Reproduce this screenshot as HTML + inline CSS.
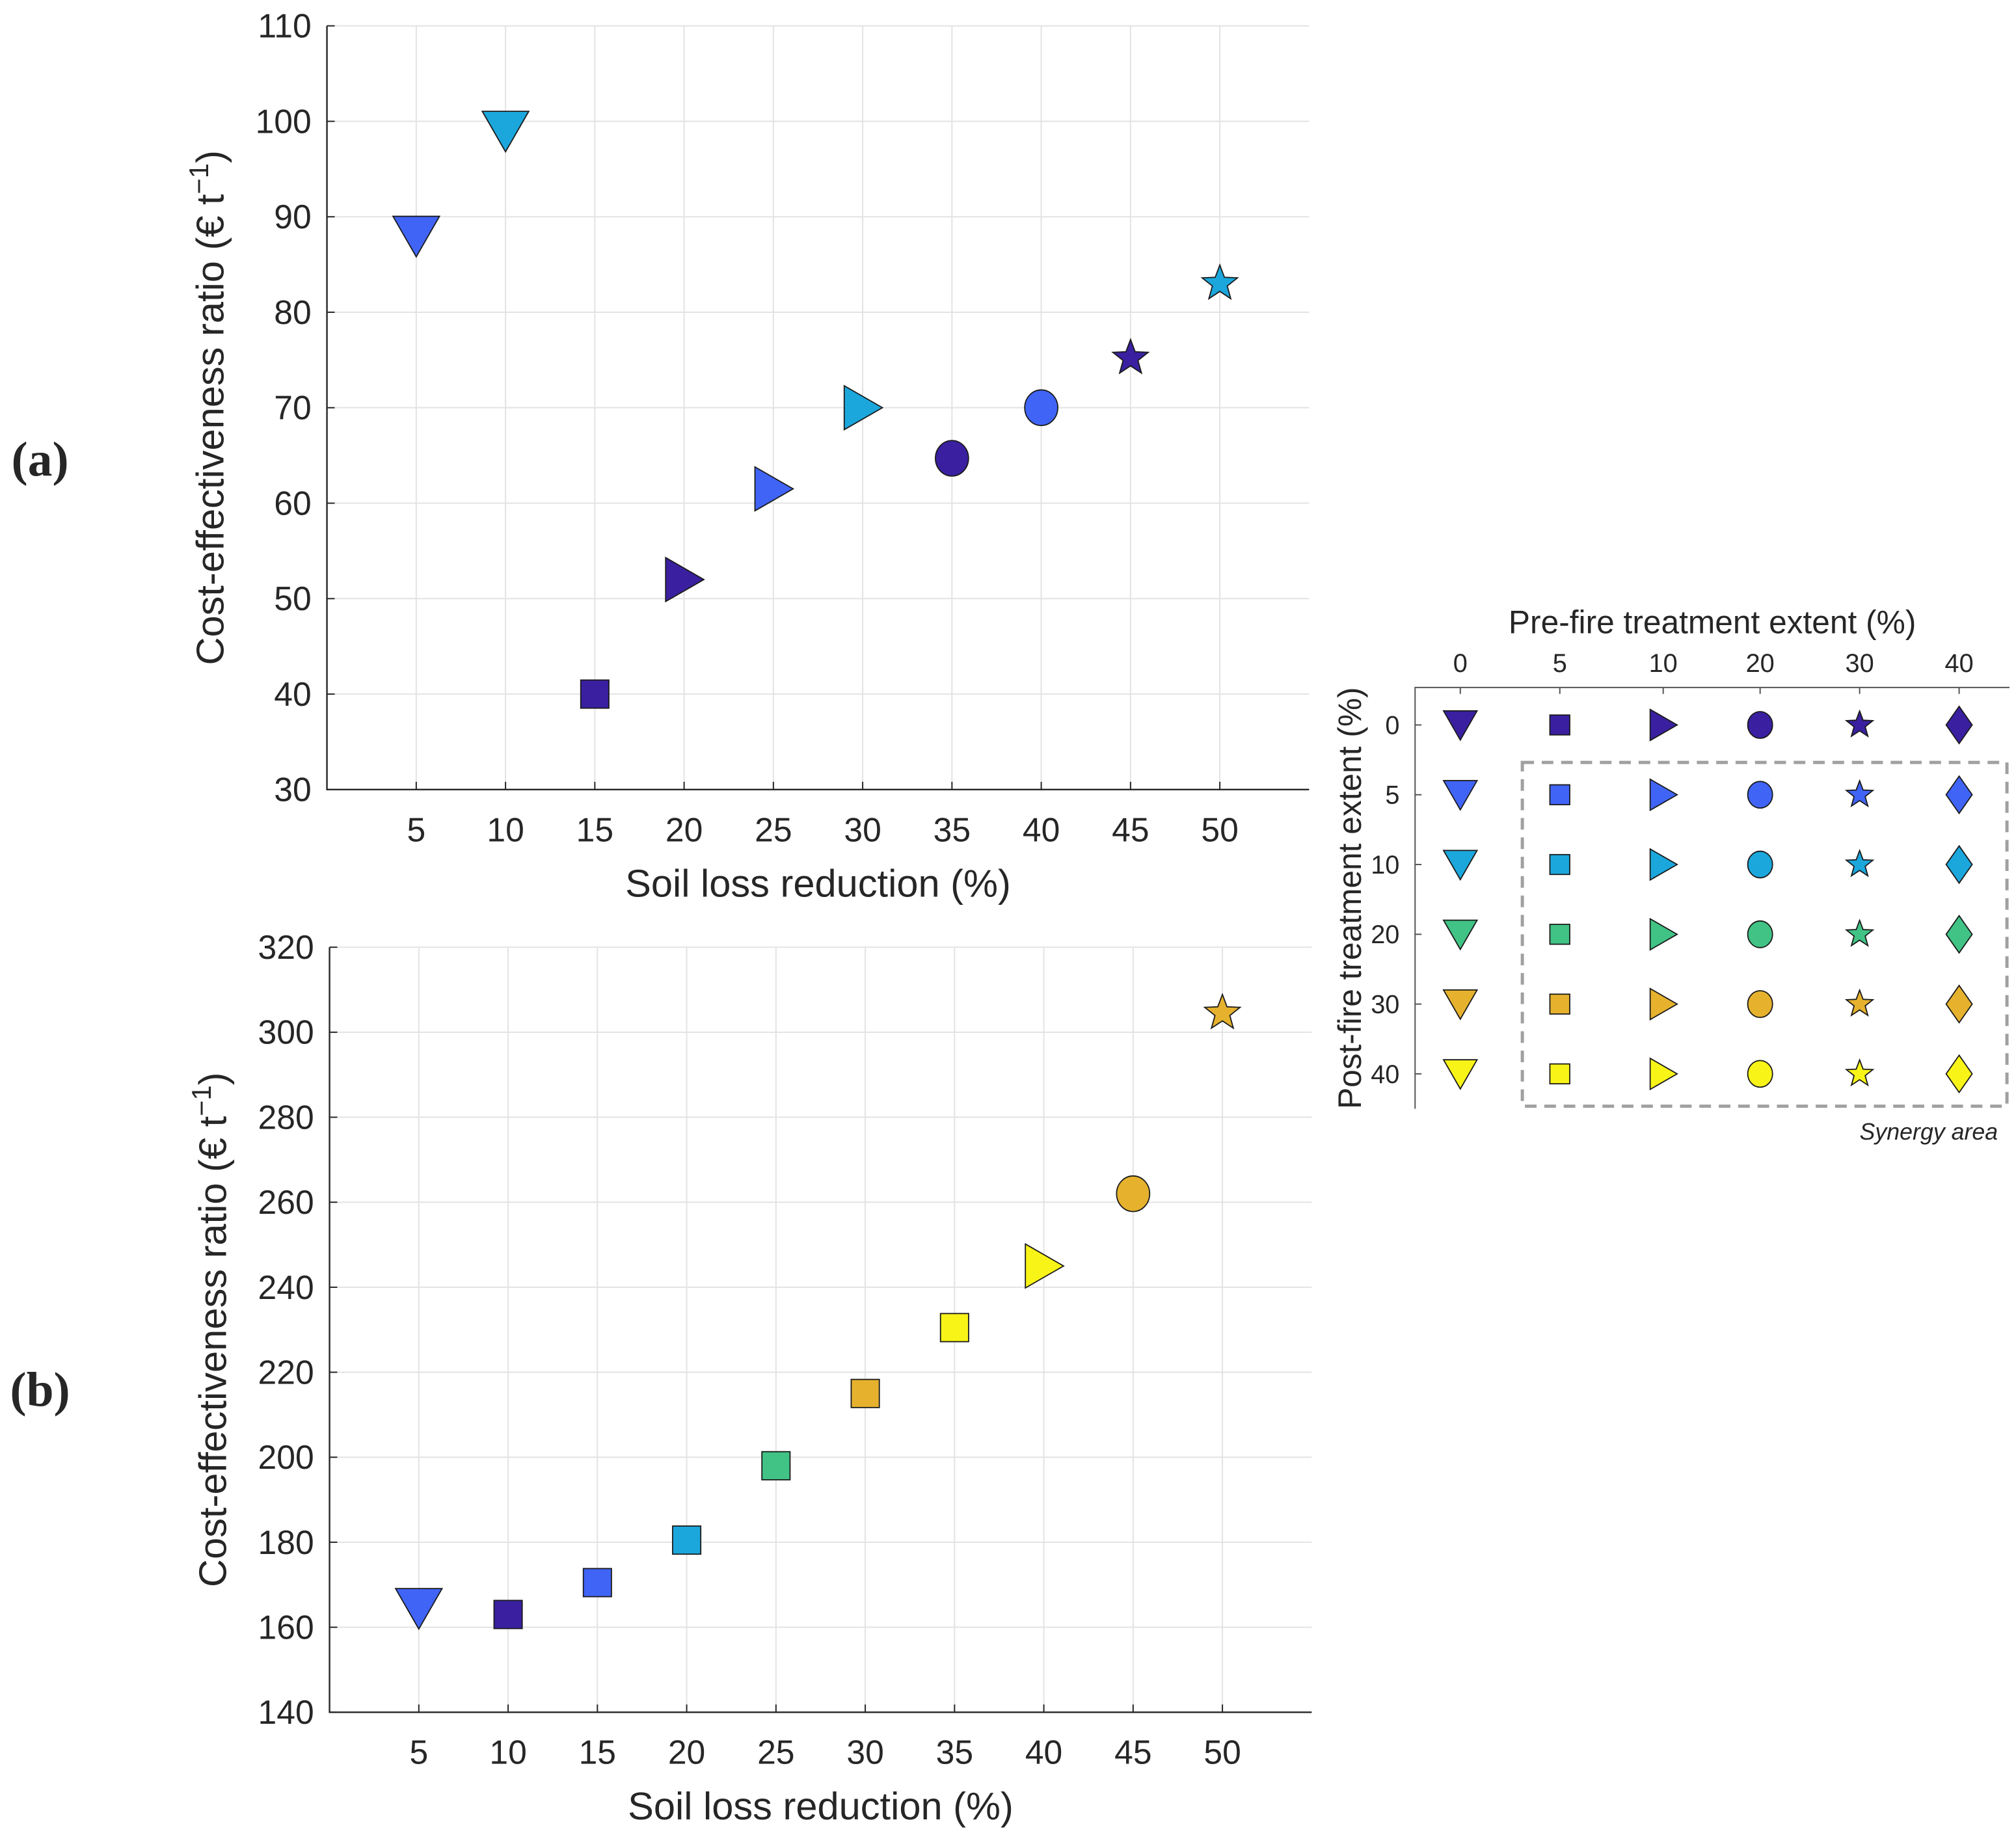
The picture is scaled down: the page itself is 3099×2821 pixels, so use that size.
<!DOCTYPE html>
<html><head><meta charset="utf-8"><style>
html,body{margin:0;padding:0;background:#fff;}
svg{display:block;}
text{font-family:"Liberation Sans",sans-serif;fill:#262626;}
</style></head><body>
<svg id="fig" width="3099" height="2821" viewBox="0 0 1560 1420" preserveAspectRatio="none" xmlns="http://www.w3.org/2000/svg">
<text x="31" y="368" style="font-family:'Liberation Serif',serif;font-weight:bold" font-size="38" text-anchor="middle" fill="#000">(a)</text>
<text x="31" y="1088" style="font-family:'Liberation Serif',serif;font-weight:bold" font-size="38" text-anchor="middle" fill="#000">(b)</text>
<g id="panelA"></g>
<g id="panelB"></g>
<g id="legend"></g>
</svg>
<script>
// shared x categories
const xCats = [5,10,15,20,25,30,35,40,45,50];
// panel a
const aValues = [88,99,40,52,61.5,70,64.7,70,75.2,83];
const aShapes = ['tri-down','tri-down','square','tri-right','tri-right','tri-right','circle','circle','star','star'];
const aPost = [5,10,0,0,5,10,0,5,0,10];
const aYTicks = [30,40,50,60,70,80,90,100,110];
// panel b
const bValues = [164.5,163,170.5,180.5,198,215,230.5,245,262,304.5];
const bShapes = ['tri-down','square','square','square','square','square','square','tri-right','circle','star'];
const bPost = [5,0,5,10,20,30,40,40,30,30];
const bYTicks = [140,160,180,200,220,240,260,280,300,320];
// legend
const preLevels = [0,5,10,20,30,40];
const postLevels = [0,5,10,20,30,40];
const legendShapes = ['tri-down','square','tri-right','circle','star','diamond'];

const COLORS = {0:'#3a20a0',5:'#4064f6',10:'#1ba7dc',20:'#41c385',30:'#e6b22e',40:'#f8f418'};
const NS='http://www.w3.org/2000/svg';
function mk(tag, attrs, parent){const e=document.createElementNS(NS,tag);for(const k in attrs)e.setAttribute(k,attrs[k]);parent.appendChild(e);return e;}

function marker(parent, shape, cx, cy, s, fill){
  let e;
  const st={fill:fill,stroke:'#1a1a1a','stroke-width':0.9};
  if(shape==='tri-down'){
    e=mk('polygon',Object.assign({points:`${cx-s*0.5},${cy-s*0.42} ${cx+s*0.5},${cy-s*0.42} ${cx},${cy+s*0.45}`},st),parent);
  } else if(shape==='tri-right'){
    e=mk('polygon',Object.assign({points:`${cx-s*0.42},${cy-s*0.5} ${cx+s*0.45},${cy} ${cx-s*0.42},${cy+s*0.5}`},st),parent);
  } else if(shape==='square'){
    const h=s*0.32;e=mk('rect',Object.assign({x:cx-h,y:cy-h,width:2*h,height:2*h},st),parent);
  } else if(shape==='circle'){
    e=mk('ellipse',Object.assign({cx:cx,cy:cy,rx:s*0.4,ry:s*0.43},st),parent);
  } else if(shape==='star'){
    let p=[];const R=s*0.45,r=R*0.42;
    for(let i=0;i<10;i++){const a=-Math.PI/2+i*Math.PI/5;const rr=i%2?r:R;p.push((cx+rr*Math.cos(a)).toFixed(2)+','+(cy+rr*Math.sin(a)).toFixed(2));}
    e=mk('polygon',Object.assign({points:p.join(' ')},st),parent);
  } else if(shape==='diamond'){
    e=mk('polygon',Object.assign({points:`${cx},${cy-s*0.6} ${cx+s*0.42},${cy} ${cx},${cy+s*0.6} ${cx-s*0.42},${cy}`},st),parent);
  }
  return e;
}

function panel(g, cfg){
  const {L,T,B,R,ymin,ymax,yticks,vals,shapes,post,id}=cfg;
  const xs=v=>L+(v/55)*(R-L);
  const ys=v=>B-(v-ymin)/(ymax-ymin)*(B-T);
  yticks.forEach(t=>{
    const y=ys(t);
    const gl=mk('line',{x1:L,x2:R,y1:y,y2:y,stroke:'#e3e3e3','stroke-width':1},g);
    
    
    const tk=mk('line',{x1:L,x2:L+6,y1:y,y2:y,stroke:'#262626','stroke-width':1},g);
    
    
    const tx=mk('text',{x:L-12,y:y+9,'font-size':26,'text-anchor':'end'},g);
    tx.textContent=t;
    
    
  });
  xCats.forEach(c=>{
    const x=xs(c);
    const gl=mk('line',{x1:x,x2:x,y1:T,y2:B,stroke:'#e3e3e3','stroke-width':1},g);
    
    
    const tk=mk('line',{x1:x,x2:x,y1:B,y2:B-6,stroke:'#262626','stroke-width':1},g);
    
    
    const tx=mk('text',{x:x,y:B+40,'font-size':26,'text-anchor':'middle'},g);
    tx.textContent=c;
    
    
  });
  const ax=mk('path',{d:`M${L},${T} L${L},${B} L${R},${B}`,fill:'none',stroke:'#262626','stroke-width':1.2},g);
  
  
  const xl=mk('text',{x:(L+R)/2,y:B+83,'font-size':30,'text-anchor':'middle'},g);
  xl.textContent='Soil loss reduction (%)';
  
  
  const yc=(T+B)/2, yx=L-80;
  const yl=mk('text',{x:yx,y:yc,'font-size':30,'text-anchor':'middle',transform:`rotate(-90 ${yx} ${yc})`},g);
  yl.innerHTML='Cost-effectiveness ratio (€ t<tspan dy="-12" font-size="21">−1</tspan><tspan dy="12">)</tspan>';
  
  
  const sizes={'tri-down':36,'tri-right':34,'square':34,'circle':32,'star':32};
  vals.forEach((v,i)=>{
    const m=marker(g,shapes[i],xs(xCats[i]),ys(v),sizes[shapes[i]],COLORS[post[i]]);
    
    
  });
}

panel(document.getElementById('panelA'),{L:253,T:20,B:611,R:1013,ymin:30,ymax:110,yticks:aYTicks,vals:aValues,shapes:aShapes,post:aPost,id:'a'});
panel(document.getElementById('panelB'),{L:255,T:733,B:1325,R:1015,ymin:140,ymax:320,yticks:bYTicks,vals:bValues,shapes:bShapes,post:bPost,id:'b'});

// legend
(function(){
  const g=document.getElementById('legend');
  const colX=[1130,1207,1287,1362,1439,1516];
  const rowY=[561,615,669,723,777,831];
  const t=mk('text',{x:1325,y:490,'font-size':25,'text-anchor':'middle'},g);
  t.textContent='Pre-fire treatment extent (%)';
  
  
  const yt=mk('text',{x:1053,y:695,'font-size':25,'text-anchor':'middle',transform:'rotate(-90 1053 695)'},g);
  yt.textContent='Post-fire treatment extent (%)';
  
  
  const ax=mk('path',{d:'M1555,532 L1095,532 L1095,858',fill:'none',stroke:'#555','stroke-width':1},g);
  
  
  preLevels.forEach((p,j)=>{
    const tx=mk('text',{x:colX[j],y:520,'font-size':20,'text-anchor':'middle'},g);
    tx.textContent=p;
    
    
    mk('line',{x1:colX[j],x2:colX[j],y1:532,y2:537,stroke:'#555'},g);
  });
  postLevels.forEach((p,i)=>{
    const tx=mk('text',{x:1083,y:rowY[i]+7,'font-size':20,'text-anchor':'end'},g);
    tx.textContent=p;
    
    
    mk('line',{x1:1095,x2:1100,y1:rowY[i],y2:rowY[i],stroke:'#555'},g);
  });
  const lsz={'tri-down':26,'tri-right':24,'square':24,'circle':24,'star':24,'diamond':24};
  postLevels.forEach((p,i)=>{
    legendShapes.forEach((s,j)=>{
      const m=marker(g,s,colX[j],rowY[i],lsz[s],COLORS[p]);
      
      
    });
  });
  const r=mk('rect',{x:1178,y:590,width:375,height:266,fill:'none',stroke:'#a0a0a0','stroke-width':2.5,'stroke-dasharray':'9,6'},g);
  
  
  const sy=mk('text',{x:1546,y:882,'font-size':18,'text-anchor':'end','font-style':'italic'},g);
  sy.textContent='Synergy area';
  
  
})();
</script>
</body></html>
